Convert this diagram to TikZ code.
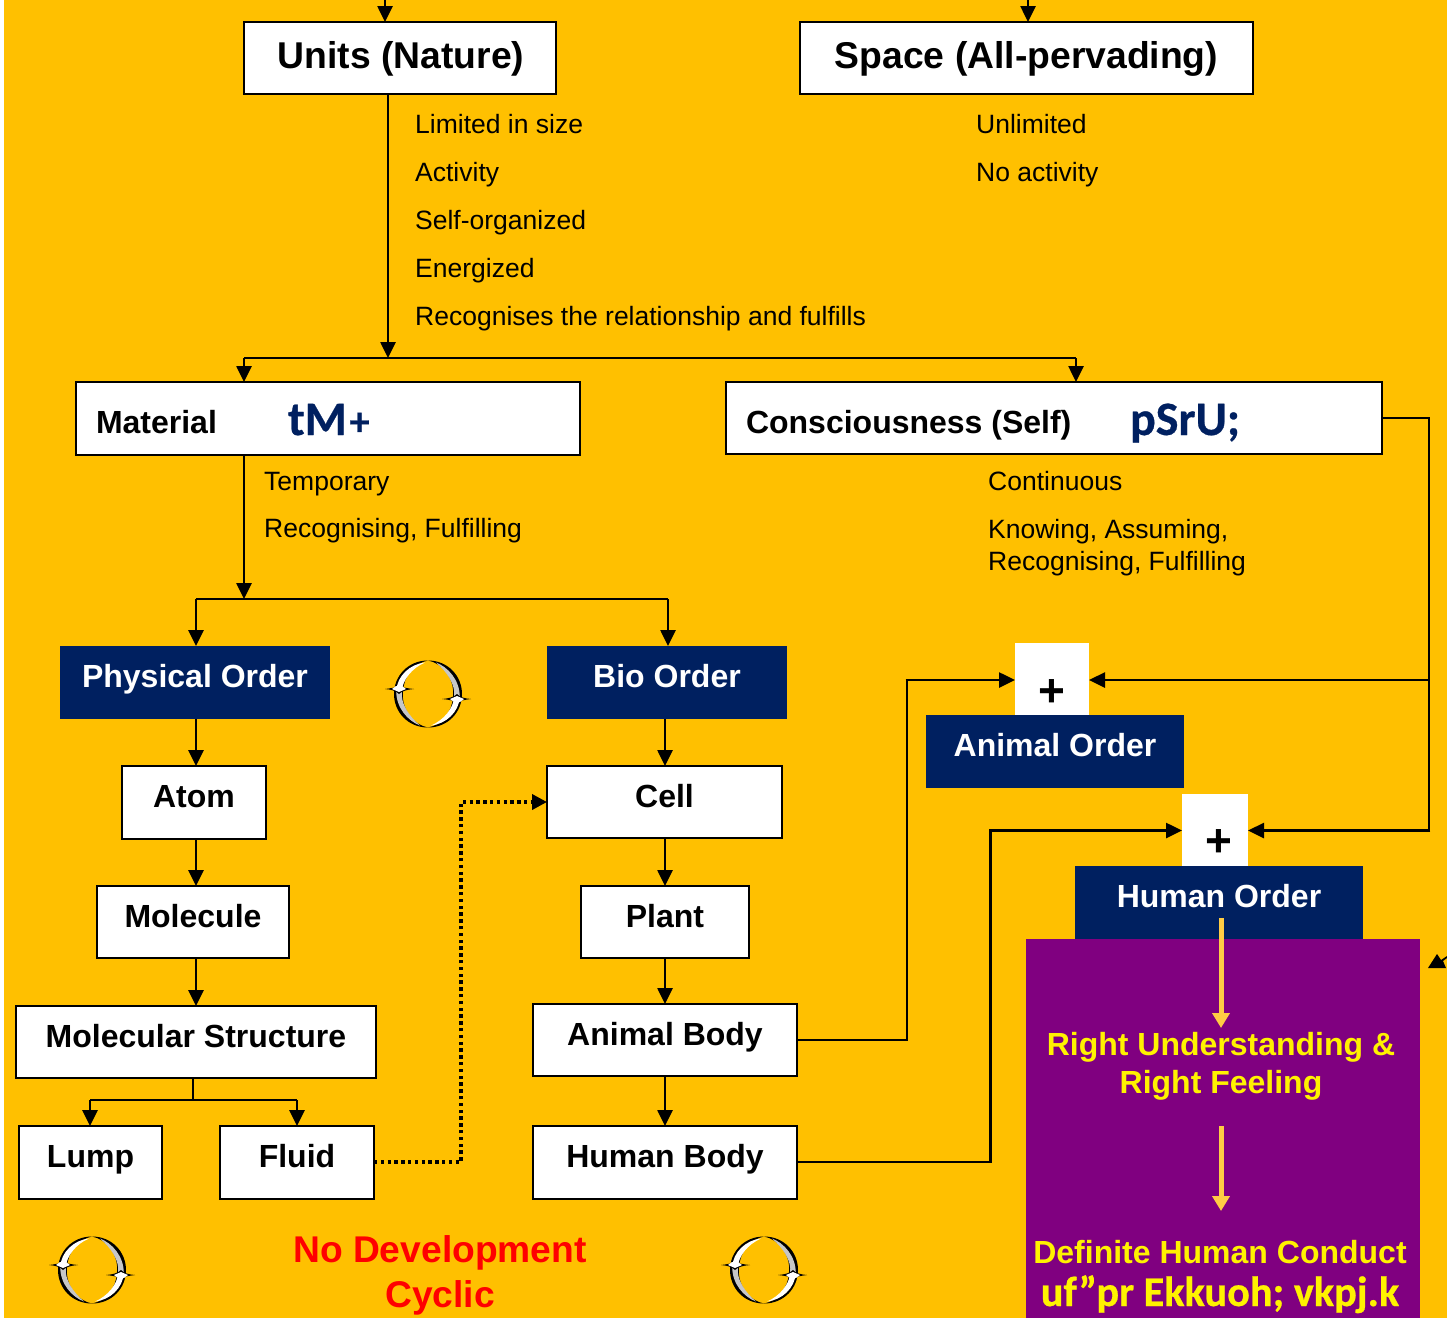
\documentclass[tikz,border=0pt]{standalone}
\usepackage{fontspec}
\setmainfont{Liberation Sans}
\newfontfamily\krfont{Carlito Bold}[FakeBold=0.6]
\usetikzlibrary{arrows.meta,calc}
\definecolor{bgor}{HTML}{FFC000}
\definecolor{navyb}{HTML}{002060}
\definecolor{purp}{HTML}{800080}
\definecolor{yarrow}{HTML}{FFCC44}
\tikzset{
  whitebox/.style={draw=black,line width=2pt,fill=white,inner sep=0pt,outer sep=0pt,text=black},
  navybox/.style={fill=navyb,inner sep=0pt,outer sep=0pt,text=white},
  plainw/.style={fill=white,inner sep=0pt,outer sep=0pt,text=black},
  lab/.style={anchor=base west,inner sep=0pt,font=\fontsize{26.5}{26.5}\selectfont},
  conn/.style={line width=2.6pt,-{Triangle[length=16pt,width=15pt]}},
  line/.style={line width=2.6pt},
  ydown/.style={draw=yarrow,line width=5pt,-{Triangle[length=15pt,width=17pt]}},
}
\newcommand{\fs}[1]{\fontsize{#1}{#1}\selectfont}
% style, name, x1,y1,x2,y2, baseline, text
\newcommand{\bx}[8]{%
  \pgfmathsetmacro{\cxx}{(#3+#5)/2}%
  \pgfmathsetmacro{\cyy}{(#4+#6)/2}%
  \pgfmathsetmacro{\ww}{#5-#3}%
  \pgfmathsetmacro{\hh}{#6-#4}%
  \pgfmathsetmacro{\rr}{\cyy-#7}%
  \node[#1,minimum width=\ww pt,minimum height=\hh pt] (#2) at (\cxx,\cyy) {\smash{\raisebox{\rr pt}{#8}}};%
}
\newcommand{\cyc}[1]{%
  \begin{scope}[shift={(#1)}]
    \foreach \rot in {0,180}{
      \begin{scope}[rotate=\rot]
        \fill[black] (0,-33.5) .. controls (-20,-33.5) and (-34,-18) .. (-34,0) .. controls (-34,18) and (-20,33.5) .. (0,33.5) .. controls (-14,31) and (-27,16) .. (-25,-3) .. controls (-24,-18) and (-14,-31) .. (0,-33.5) -- cycle;
        \fill[white] (-3,-31.5) .. controls (-18,-30) and (-31,-18) .. (-31.8,-3) -- (-26.2,-3) .. controls (-25.5,-14) and (-16,-26) .. (-3,-31.5) -- cycle;
        \fill[black!22] (-31.8,-3) .. controls (-31.8,14) and (-20,27) .. (-8,31.5) .. controls (-19,22) and (-27.5,10) .. (-26.2,-3) -- cycle;
        \fill[black] (-43,-5) .. controls (-36,-4.5) and (-32,-3) .. (-29,0) .. controls (-26,-3) and (-21,-4.5) .. (-14,-5) .. controls (-21,-5.5) and (-24,-7) .. (-29,-7) .. controls (-34,-7) and (-37,-5.5) .. (-43,-5) -- cycle;
        \fill[white] (-36,-5) -- (-29,-2) -- (-22,-5) -- (-26,-8) -- (-32,-8) -- cycle;
      \end{scope}
    }
  \end{scope}%
}
\begin{document}
\begin{tikzpicture}[x=1pt,y=-1pt]
\useasboundingbox (0,0) rectangle (1447,1318);
\fill[white] (0,0) rectangle (1447,1318);
\fill[bgor] (4,0) rectangle (1447,1318);

% purple panel and order boxes
\bx{navybox}{humanorder}{1075}{866}{1363}{940}{907}{\fs{32}\bfseries Human Order}
\node[fill=purp,inner sep=0pt,outer sep=0pt,minimum width=394pt,minimum height=379pt] (panel) at (1223,1128.5) {};

% top row
\bx{whitebox}{units}{244}{22}{556}{94}{68}{\hspace*{2pt}\fs{37.3}\bfseries Units (Nature)}
\bx{whitebox}{space}{800}{22}{1253}{94}{68}{\fs{37.3}\bfseries Space (All-pervading)}
\bx{whitebox}{material}{76}{382}{580}{455}{433}{\makebox[504pt][l]{\hspace{20pt}\makebox[192pt][l]{\fs{32}\bfseries Material}\raisebox{-2pt}{\fs{48}\krfont\color{navyb}tM\kern3pt{\fs{40}+}}}}
\bx{whitebox}{consc}{726}{382}{1382}{454}{433}{\makebox[656pt][l]{\hspace{20pt}\makebox[384pt][l]{\fs{32}\bfseries Consciousness (Self)}\raisebox{-2pt}{\fs{48}\krfont\color{navyb}pSrU;}}}

% left column
\bx{navybox}{physical}{60}{646}{330}{719}{687}{\fs{32}\bfseries Physical Order}
\bx{whitebox}{atom}{122}{766}{266}{839}{807}{\fs{32}\bfseries Atom}
\bx{whitebox}{molecule}{97}{886}{289}{958}{927}{\fs{32}\bfseries Molecule}
\bx{whitebox}{molstruct}{16}{1006}{376}{1078}{1047}{\fs{32}\bfseries Molecular Structure}
\bx{whitebox}{lump}{19}{1126}{162}{1199}{1167}{\fs{32}\bfseries Lump}
\bx{whitebox}{fluid}{220}{1126}{374}{1199}{1167}{\fs{32}\bfseries Fluid}

% middle column
\bx{navybox}{bio}{547}{646}{787}{719}{687}{\fs{32}\bfseries Bio Order}
\bx{whitebox}{cell}{547}{766}{782}{838}{807}{\fs{32}\bfseries Cell}
\bx{whitebox}{plant}{581}{886}{749}{958}{927}{\fs{32}\bfseries Plant}
\bx{whitebox}{animalbody}{533}{1004}{797}{1076}{1045}{\fs{32}\bfseries Animal Body}
\bx{whitebox}{humanbody}{533}{1126}{797}{1199}{1167}{\fs{32}\bfseries Human Body}

% right orders
\bx{plainw}{plusa}{1015}{643}{1089}{715}{706}{\fs{46}\bfseries +}
\bx{navybox}{animalorder}{926}{715}{1184}{788}{756}{\fs{32}\bfseries Animal Order}
\bx{plainw}{plush}{1182}{794}{1248}{866}{856}{\hspace*{8pt}\fs{46}\bfseries +}

% labels
\node[lab] (l1) at (415,133) {Limited in size};
\node[lab] (l2) at (415,181) {Activity};
\node[lab] (l3) at (415,229) {Self-organized};
\node[lab] (l4) at (415,277) {Energized};
\node[lab] (l5) at (415,325) {Recognises the relationship and fulfills};
\node[lab] (r1) at (976,133) {Unlimited};
\node[lab] (r2) at (976,181) {No activity};
\node[lab] (m1) at (264,490) {Temporary};
\node[lab] (m2) at (264,537) {Recognising, Fulfilling};
\node[lab] (c1) at (988,490) {Continuous};
\node[lab] (c2) at (988,538) {Knowing, Assuming,};
\node[lab] (c3) at (988,570) {Recognising, Fulfilling};

\node[anchor=base,inner sep=0pt,text=red] (nodev) at (440,1262) {\fs{37.2}\bfseries No Development};
\node[anchor=base,inner sep=0pt,text=red] (cyclic) at (440,1307) {\fs{37.2}\bfseries Cyclic};
\node[anchor=base,inner sep=0pt,text=yellow] (ru1) at (1221,1055) {\fs{32}\bfseries Right Understanding \&};
\node[anchor=base,inner sep=0pt,text=yellow] (ru2) at (1221,1093) {\fs{32}\bfseries Right Feeling};
\node[anchor=base,inner sep=0pt,text=yellow] (dh) at (1220,1263) {\fs{32}\bfseries Definite Human Conduct};
\node[anchor=base,inner sep=0pt,text=yellow] (dh2) at (1220,1306) {\fs{42.3}\krfont uf”pr Ekkuoh; vkpj.k};

% junctions and free ends
\coordinate (topa) at (385,-8);
\coordinate (topb) at (1028,-8);
\coordinate (ja) at (388,358);
\coordinate (jal) at (244,358);
\coordinate (jar) at (1076,358);
\coordinate (jb) at (244,599);
\coordinate (jbl) at (196,599);
\coordinate (jbr) at (668,599);
\coordinate (jc) at (193,1100);
\coordinate (jcl) at (90,1100);
\coordinate (jcr) at (297,1100);
\coordinate (rr) at (1429,418);
\coordinate (rm) at (1429,680);
\coordinate (rb) at (1429,830.5);
\coordinate (ab) at (907,1040);
\coordinate (ha) at (990.5,1162);
\coordinate (dd) at (461,1162);
\coordinate (mc) at (665,700);

\draw[conn] (topa) -- (topa |- units.north);
\draw[conn] (topb) -- (topb |- space.north);
\draw[conn] (units.south -| ja) -- (ja);
\draw[line] (jal) -- (jar);
\draw[conn] (jal) -- (jal |- material.north);
\draw[conn] (jar) -- (jar |- consc.north);
\draw[conn] (material.south -| jb) -- (jb);
\draw[line] (jbl) -- (jbr);
\draw[conn] (jbl) -- (jbl |- physical.north);
\draw[conn] (jbr) -- (jbr |- bio.north);
\draw[conn] (physical.south -| jbl) -- (atom.north -| jbl);
\draw[conn] (atom.south -| jbl) -- (molecule.north -| jbl);
\draw[conn] (molecule.south -| jbl) -- (molstruct.north -| jbl);
\draw[line] (molstruct.south -| jc) -- (jc);
\draw[line] (jcl) -- (jcr);
\draw[conn] (jcl) -- (jcl |- lump.north);
\draw[conn] (jcr) -- (jcr |- fluid.north);
\draw[conn] (bio.south -| mc) -- (cell.north -| mc);
\draw[conn] (cell.south -| mc) -- (plant.north -| mc);
\draw[conn] (plant.south -| mc) -- (animalbody.north -| mc);
\draw[conn] (animalbody.south -| mc) -- (humanbody.north -| mc);
\draw[line] (animalbody.east |- ab) -- (ab) -- (ab |- rm);
\draw[conn] ($(ab |- rm)+(-1.3,0)$) -- (plusa.west |- rm);
\draw[line] (humanbody.east |- ha) -- (ha) -- (ha |- rb);
\draw[conn] ($(ha |- rb)+(-1.3,0)$) -- (plush.west |- rb);
\draw[line] (consc.east |- rr) -- (rr) -- (rb);
\draw[conn] (rm) -- (plusa.east |- rm);
\draw[conn] ($(rb)+(1.3,0)$) -- (plush.east |- rb);
\draw[line width=3.6pt,dash pattern=on 3.4pt off 3.4pt,-{Triangle[length=15pt,width=15pt]}] (fluid.east |- dd) -- (dd) -- (dd |- cell.west) -- (cell.west);

% yellow arrows
\coordinate (y1a) at (1221,918);
\coordinate (y1b) at (1221,1028);
\coordinate (y2a) at (1221,1126);
\coordinate (y2b) at (1221,1211);
\draw[ydown] (y1a) -- (y1b);
\draw[ydown] (y2a) -- (y2b);

% stray arrow tip at the right edge
\fill[black] (1428,968) -- (1437,954) -- (1441,960) -- (1447,956) -- (1447,958) -- (1443,961) -- (1446,968) -- cycle;

% cycle icons
\cyc{428,694}
\cyc{92,1270}
\cyc{764,1270}
\end{tikzpicture}
\end{document}
